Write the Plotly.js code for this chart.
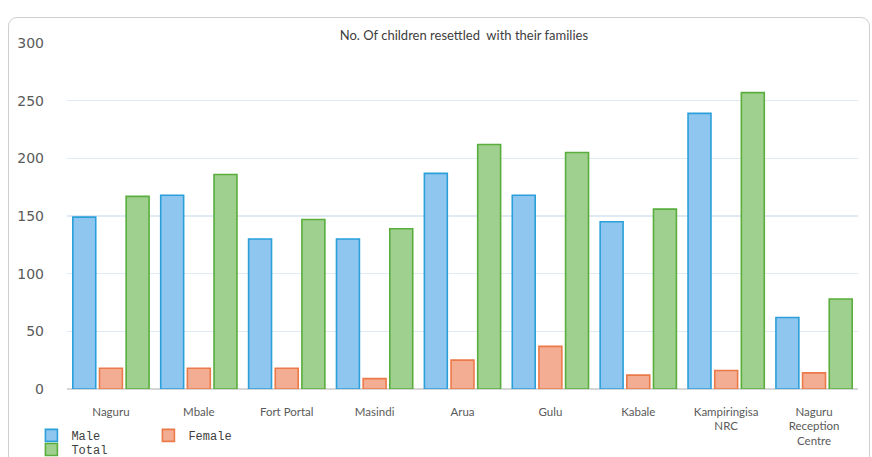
<!DOCTYPE html>
<html>
<head>
<meta charset="utf-8">
<script src="https://cdn.plot.ly/plotly-3.0.1.min.js"></script>
<style>
  html, body { margin: 0; padding: 0; background: #ffffff; }
  #wrap { position: relative; width: 872px; height: 457px; overflow: hidden; }
  #chart { position: absolute; left: 0; top: 0; width: 872px; height: 457px; }
  #frame {
    position: absolute; left: 8px; top: 17px; width: 860px; height: 470px;
    border: 1px solid #cfcfcf; border-radius: 9px; pointer-events: none;
  }
</style>
</head>
<body>
<div id="wrap">
  <div id="chart"></div>
  <div id="frame"></div>
</div>
<script>
// Resettlement centres and children counts
const centres = ["Naguru", "Mbale", "Fort Portal", "Masindi", "Arua", "Gulu", "Kabale",
                 "Kampiringisa<br>NRC", "Naguru<br>Reception<br>Centre"];
const male   = [149, 168, 130, 130, 187, 168, 145, 239, 62];
const female = [18, 18, 18, 9, 25, 37, 12, 16, 14];
const total  = [167, 186, 147, 139, 212, 205, 156, 257, 78];
const yTicks = [0, 50, 100, 150, 200, 250, 300];

const legendFont = { family: "Liberation Mono, Courier New, monospace", size: 12, color: "#404040" };

function series(name, values, fill, edge, legendRef) {
  return {
    type: "bar", name: name, x: centres, y: values,
    legend: legendRef,
    marker: { color: fill, line: { color: edge, width: 1.6 } },
    hoverinfo: "x+y+name"
  };
}

const data = [
  series("Male",   male,   "#8fc6ef", "#2b9fd9", "legend"),
  series("Female", female, "#f3ad93", "#ec7a48", "legend"),
  series("Total",  total,  "#a0d08f", "#58ad3d", "legend2")
];

const layout = {
  width: 872, height: 457,
  margin: { l: 67, r: 14, t: 43, b: 68, autoexpand: false },
  paper_bgcolor: "rgba(0,0,0,0)",
  plot_bgcolor: "#ffffff",
  barmode: "group",
  bargap: 0.09,
  bargroupgap: 0.14,
  title: {
    text: "No. Of children resettled  with their families",
    font: { family: "Lato, DejaVu Sans, sans-serif", size: 13, color: "#404040" },
    x: 0.532, xanchor: "center",
    y: 1 - 35 / 457, yref: "container", yanchor: "middle"
  },
  xaxis: {
    type: "category",
    tickfont: { family: "Lato, DejaVu Sans, sans-serif", size: 11.5, color: "#5a5a5a" },
    ticks: "", showgrid: false, showline: false, zeroline: false,
    ticklabelstandoff: 14,
    fixedrange: true
  },
  yaxis: {
    range: [0, 300],
    tickvals: yTicks,
    ticktext: yTicks.map(String),
    tickfont: { family: "DejaVu Sans, sans-serif", size: 14, color: "#5a5a5a" },
    showgrid: true, gridcolor: "#dfeaf4", gridwidth: 1.5,
    zeroline: true, zerolinecolor: "#d6d6d6", zerolinewidth: 2,
    showline: false, ticks: "",
    ticklabelstandoff: 22,
    fixedrange: true
  },
  legend: {
    orientation: "h", x: -0.045, xanchor: "left", y: -0.092, yanchor: "top",
    font: legendFont, bgcolor: "rgba(0,0,0,0)",
    entrywidth: 72, entrywidthmode: "pixels",
    itemclick: false, itemdoubleclick: false
  },
  legend2: {
    orientation: "h", x: -0.045, xanchor: "left", y: -0.133, yanchor: "top",
    font: legendFont, bgcolor: "rgba(0,0,0,0)",
    itemclick: false, itemdoubleclick: false
  },
  showlegend: true
};

Plotly.newPlot("chart", data, layout, { displayModeBar: false, staticPlot: true });
</script>
</body>
</html>
